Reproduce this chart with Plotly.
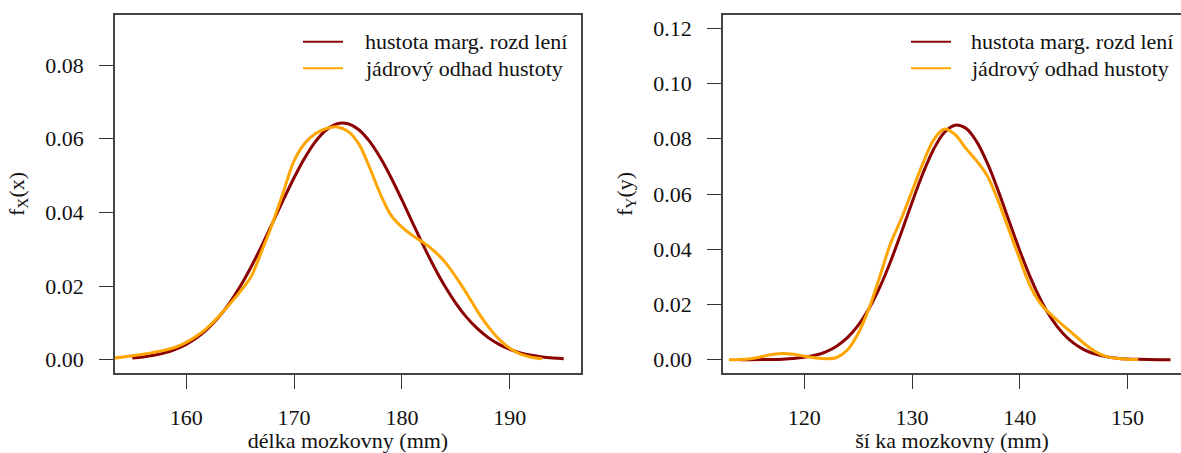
import plotly.graph_objects as go

# ---------------- data ----------------
# left panel: délka mozkovny
len_x = list(range(155, 196))
len_norm = [0.00046, 0.00075, 0.00120, 0.00186, 0.00283, 0.00417, 0.00601, 0.00843,
            0.01151, 0.01533, 0.01988, 0.02512, 0.03093, 0.03711, 0.04338, 0.04941,
            0.05483, 0.05928, 0.06244, 0.06409, 0.06409, 0.06244, 0.05928, 0.05483,
            0.04941, 0.04338, 0.03711, 0.03093, 0.02512, 0.01988, 0.01533, 0.01151,
            0.00843, 0.00601, 0.00417, 0.00283, 0.00186, 0.00120, 0.00075, 0.00046,
            0.00027]
len_kde_x = list(range(150, 194))
len_kde = [0.0000, 0.0001, 0.0002, 0.0004, 0.0007, 0.0011, 0.0015, 0.0020, 0.0026,
           0.0034, 0.0047, 0.0065, 0.0088, 0.0117, 0.0150, 0.0185, 0.0225, 0.0295,
           0.0370, 0.0455, 0.0540, 0.0588, 0.0614, 0.0628, 0.0632, 0.0620, 0.0586,
           0.0522, 0.0450, 0.0392, 0.0360, 0.0337, 0.0318, 0.0295, 0.0265, 0.0225,
           0.0180, 0.0132, 0.0090, 0.0056, 0.0031, 0.0015, 0.0007, 0.0003]

# right panel: šířka mozkovny
wid_x = list(range(114, 155))
wid_norm = [0.00000, 0.00002, 0.00005, 0.00011, 0.00022, 0.00045, 0.00087, 0.00162,
            0.00289, 0.00491, 0.00798, 0.01243, 0.01845, 0.02617, 0.03548, 0.04598,
            0.05693, 0.06735, 0.07614, 0.08226, 0.08492, 0.08378, 0.07897, 0.07114,
            0.06122, 0.05035, 0.03957, 0.02972, 0.02133, 0.01462, 0.00958, 0.00600,
            0.00359, 0.00205, 0.00112, 0.00058, 0.00029, 0.00014, 0.00006, 0.00003,
            0.00001]
wid_kde_x = list(range(113, 152))
wid_kde = [0.0000, 0.0001, 0.0004, 0.0011, 0.0019, 0.0023, 0.0020, 0.0013, 0.0007,
           0.0004, 0.0008, 0.0035, 0.0095, 0.0185, 0.0300, 0.0420, 0.0510, 0.0610,
           0.0710, 0.0795, 0.0835, 0.0815, 0.0765, 0.0720, 0.0665, 0.0575, 0.0470,
           0.0365, 0.0265, 0.0200, 0.0160, 0.0125, 0.0092, 0.0058, 0.0030, 0.0012,
           0.0005, 0.0002, 0.0001]

legend_labels = ["hustota marg. rozd lení", "jádrový odhad hustoty"]
x_titles = ["délka mozkovny (mm)", "ší ka mozkovny (mm)"]
y_titles = ["f<sub>X</sub>(x)", "f<sub>Y</sub>(y)"]
x_ticks = [[160, 170, 180, 190], [120, 130, 140, 150]]
y_ticks = [[0.00, 0.02, 0.04, 0.06, 0.08], [0.00, 0.02, 0.04, 0.06, 0.08, 0.10, 0.12]]

# ---------------- styling ----------------
RED = "#8B0000"
ORANGE = "#FFA500"
FONT = "Liberation Serif, Times New Roman, serif"
W, H = 1181, 453
TXT = dict(family=FONT, size=22, color="#111")

fig = go.Figure()
fig.add_trace(go.Scatter(x=len_x, y=len_norm, mode="lines", line=dict(color=RED, width=3, shape="spline"),
                         xaxis="x", yaxis="y", showlegend=False))
fig.add_trace(go.Scatter(x=len_kde_x, y=len_kde, mode="lines", line=dict(color=ORANGE, width=3, shape="spline"),
                         xaxis="x", yaxis="y", showlegend=False))
fig.add_trace(go.Scatter(x=wid_x, y=wid_norm, mode="lines", line=dict(color=RED, width=3, shape="spline"),
                         xaxis="x2", yaxis="y2", showlegend=False))
fig.add_trace(go.Scatter(x=wid_kde_x, y=wid_kde, mode="lines", line=dict(color=ORANGE, width=3, shape="spline"),
                         xaxis="x2", yaxis="y2", showlegend=False))

ydom = [1 - 373 / H, 1 - 15 / H]
common_axis = dict(showgrid=False, zeroline=False, showline=True, linecolor="#444", linewidth=1.5,
                   ticks="outside", ticklen=14, tickwidth=1.3, tickcolor="#333")

fig.update_layout(
    width=W, height=H, margin=dict(l=0, r=0, t=0, b=0),
    paper_bgcolor="white", plot_bgcolor="white",
    font=TXT,
    xaxis=dict(domain=[115 / W, 581 / W], range=[153.4, 196.6], tickvals=x_ticks[0],
               mirror=True, anchor="y", ticklabelstandoff=10, tickfont=TXT,
               title=dict(text=x_titles[0], standoff=7, font=TXT), **common_axis),
    yaxis=dict(domain=ydom, range=[-0.0036, 0.0936], tickvals=y_ticks[0], tickformat=".2f",
               mirror=True, anchor="x", ticklabelstandoff=11, tickfont=TXT,
               title=dict(text=y_titles[0], standoff=15, font=TXT), **common_axis),
    xaxis2=dict(domain=[723 / W, 1.0], range=[112.45, 112.45 + 458 / 10.77], tickvals=x_ticks[1],
                mirror=True, anchor="y2", ticklabelstandoff=10, tickfont=TXT,
                title=dict(text=x_titles[1], standoff=7, font=TXT), **common_axis),
    yaxis2=dict(domain=ydom, range=[-0.0048, 0.1248], tickvals=y_ticks[1], tickformat=".2f",
                mirror=False, anchor="x2", ticklabelstandoff=11, tickfont=TXT,
                title=dict(text=y_titles[1], standoff=15, font=TXT), **common_axis),
)

# legends (no box), as in the original
for (line_x0, text_x) in [(303, 363), (911, 969)]:
    for i, (lab, col) in enumerate(zip(legend_labels, [RED, ORANGE])):
        yy = 1 - (41.7 + i * 26.6) / H
        fig.add_shape(type="line", xref="paper", yref="paper", x0=line_x0 / W, x1=(line_x0 + 40) / W,
                      y0=yy, y1=yy, line=dict(color=col, width=2))
        fig.add_annotation(xref="paper", yref="paper", x=text_x / W, y=yy, text=lab, showarrow=False,
                           xanchor="left", yanchor="middle", font=TXT)

fig.write_html("out.html", config={"displayModeBar": False},
               post_script="document.body.style.margin='0';document.body.style.overflow='hidden';")
